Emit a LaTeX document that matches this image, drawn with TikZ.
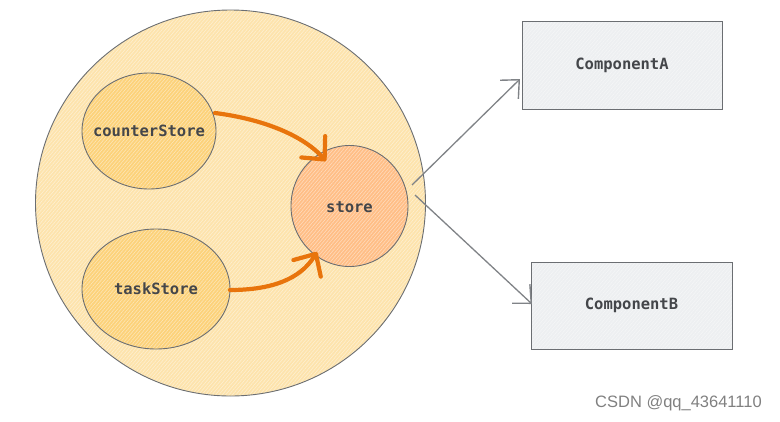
\documentclass[tikz,border=0pt]{standalone}
\usepackage{fontspec}
\setmainfont{Liberation Sans}
\newfontfamily\codefont{DejaVu Sans Mono}
\usetikzlibrary{arrows.meta,patterns.meta}
\definecolor{bigfill}{HTML}{FDE3AC}
\definecolor{subfill}{HTML}{FCD27A}
\definecolor{storefill}{HTML}{FFBE86}
\definecolor{boxfill}{HTML}{EDEFF1}
\definecolor{edge}{HTML}{6B6E72}
\definecolor{txt}{HTML}{44464A}
\definecolor{orangearrow}{HTML}{E8740C}
\definecolor{grayarrow}{HTML}{808387}
\tikzset{
  x=1pt,y=-1pt,
  hatch/.style={preaction={fill=#1},pattern={Lines[angle=50,distance=2.6pt,line width=0.6pt]},pattern color=white!45!#1},
  shape line/.style={draw=edge,line width=0.9pt},
  label text/.style={font=\codefont\bfseries\fontsize{15.5}{17}\selectfont,text=txt},
  compbox/.style={shape line,hatch=boxfill,rectangle,inner sep=0pt,label text},
  orangeflow/.style={draw=orangearrow,line width=4.2pt,line cap=round,-{Straight Barb[length=17pt,width=32pt,line width=4.2pt,round]}},
  grayflow/.style={draw=grayarrow,line width=1.3pt,-{Straight Barb[length=14pt,width=26pt,line width=1.4pt]}},
}
\begin{document}
\begin{tikzpicture}
\useasboundingbox (0,0) rectangle (780,421);
% big circle
\path[shape line,hatch=bigfill] (230.5,203) ellipse [x radius=195,y radius=193];
\node[coordinate] (big) at (230.5,203) {};
% inner ellipses
\path[shape line,hatch=subfill] (149,131) ellipse [x radius=67,y radius=58];
\node[label text] (counter) at (149,131) {counterStore};
\path[shape line,hatch=subfill] (156,289) ellipse [x radius=74,y radius=60];
\node[label text] (task) at (156,289) {taskStore};
\path[shape line,hatch=storefill] (349.5,206) ellipse [x radius=58.5,y radius=60.5];
\node[label text] (store) at (349.5,207) {store};
% components
\node[compbox,minimum width=200,minimum height=88] (compA) at (622,65) {ComponentA};
\node[compbox,minimum width=201,minimum height=87] (compB) at (631.5,305.5) {ComponentB};
% anchor coordinates
\coordinate (cs out) at (215,113);
\coordinate (st inA) at (326,161);
\coordinate (ts out) at (230,290);
\coordinate (st inB) at (317,252);
\coordinate (st outA) at (412,185);
\coordinate (st outB) at (415,195);
\coordinate (A in) at (520,79);
\coordinate (B in) at (532,304);
% orange arrows
\draw[orangeflow] (cs out) .. controls (255,118) and (300,132) .. (st inA);
\draw[orangeflow] (ts out) .. controls (270,290) and (300,280) .. (st inB);
% gray arrows
\draw[grayflow] (st outA) -- (A in);
\draw[grayflow] (st outB) -- (B in);
% watermark
\node[font=\fontsize{16.5}{18}\selectfont,text=black!50,anchor=west,inner sep=0pt] (mark) at (595,403) {CSDN @qq\_43641110};
\end{tikzpicture}
\end{document}
